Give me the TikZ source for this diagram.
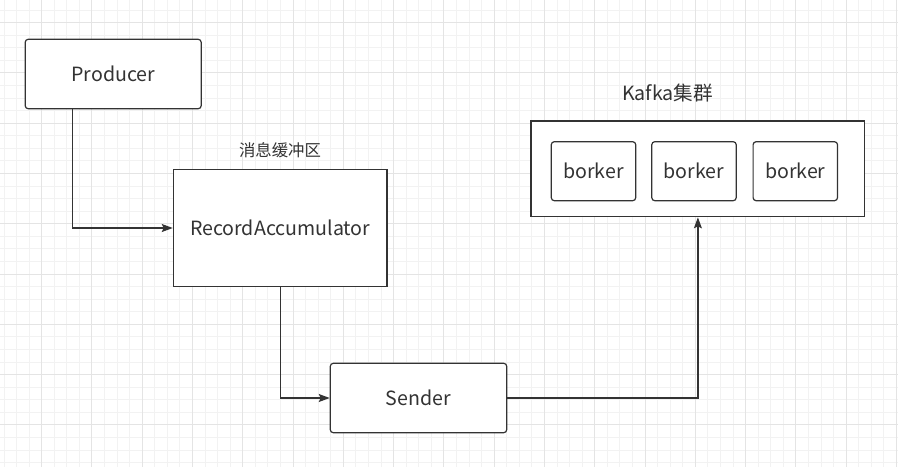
\documentclass[tikz,border=0pt]{standalone}
\usepackage{fontspec}
\setmainfont{Noto Sans CJK SC}
\usepackage{tikz}
\definecolor{ink}{RGB}{51,51,51}
\definecolor{gridminor}{RGB}{242,242,242}
\definecolor{gridmajor}{RGB}{228,228,228}
\usetikzlibrary{positioning,arrows.meta,backgrounds}
\tikzset{%
  box/.style={draw=ink, line width=1.2pt, fill=white, text=ink, inner sep=0pt,
    font=\fontsize{19.6}{22}\selectfont},% plain box
  roundbox/.style={box, rounded corners=3pt},% box with round corners
  caption/.style={text=ink, inner sep=0pt},% text above a box
  link/.style={draw=ink, line width=1.2pt, -{Stealth[length=11pt,width=8pt,inset=2pt]}},% connector
  minor/.style={gridminor, line width=1pt},% fine grid
  major/.style={gridmajor, line width=1pt}% coarse grid
}

\begin{document}
\begin{tikzpicture}[x=1pt, y=-1pt]
\useasboundingbox (0,0) rectangle (898,467);
\fill[white] (0,0) rectangle (898,467);
\foreach \i in {0,...,71} \draw[minor] ({4+12.57*\i},0) -- ({4+12.57*\i},467);
\foreach \i in {0,...,36} \draw[minor] (0,{10.05+12.57*\i}) -- (898,{10.05+12.57*\i});
\foreach \i in {0,...,17} \draw[major] ({41.7+50.28*\i},0) -- ({41.7+50.28*\i},467);
\foreach \i in {0,...,8} \draw[major] (0,{22.6+50.28*\i}) -- (898,{22.6+50.28*\i});

\node[roundbox, minimum width=176pt, minimum height=69.4pt] (producer) at (113.2,74) {Producer};
\node[box, minimum width=213.7pt, minimum height=117.4pt] (acc) at (280.2,228) {RecordAccumulator};
\node[roundbox, minimum width=176.4pt, minimum height=69.4pt] (sender) at (418.5,398) {Sender};
\node[box, minimum width=333.7pt, minimum height=95.7pt] (kafka) at (697.9,168.9) {};
\node[roundbox, minimum width=84.4pt, minimum height=59pt] (b1) at (593.5,171.2) {borker};
\node[roundbox, minimum width=84.4pt, minimum height=59pt] (b2) at (694,171.2) {borker};
\node[roundbox, minimum width=84.4pt, minimum height=59pt] (b3) at (795.3,171.2) {borker};

\node[caption, font=\fontsize{19.6}{22}\selectfont] (title) at (667.5,93) {Kafka集群};
\node[caption, font=\fontsize{16.4}{19}\selectfont] (buffer) at (280,150) {消息缓冲区};

\draw[link] ([xshift=-41pt]producer.south) |- (acc.west);
\draw[link] (acc.south) |- (sender.west);
\draw[link] (sender.east) -| (kafka.south);
\end{tikzpicture}
\end{document}
